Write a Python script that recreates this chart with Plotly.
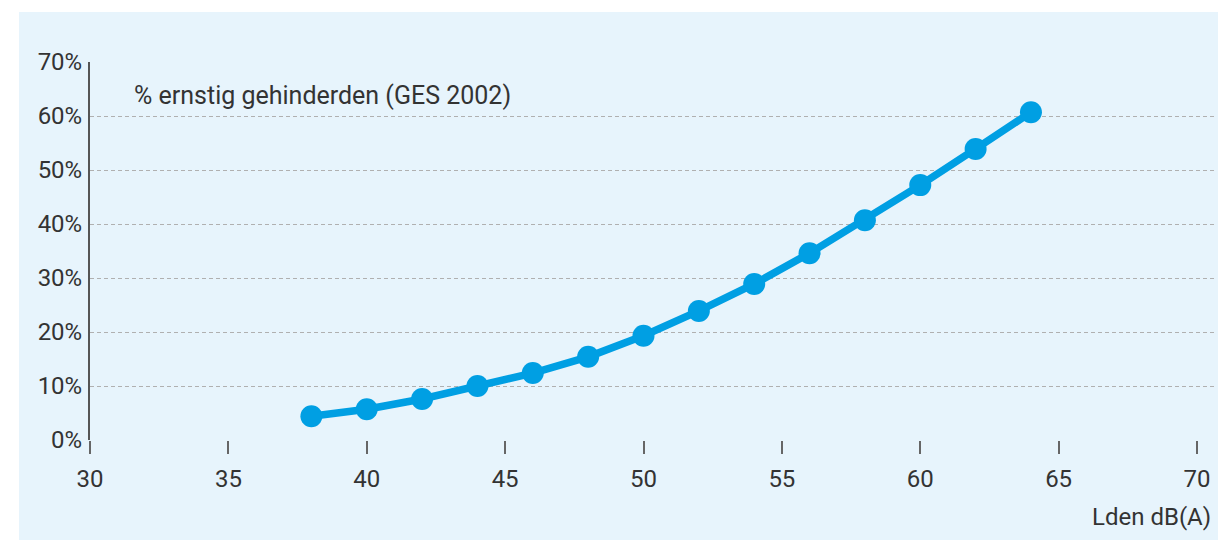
import plotly.graph_objects as go

lden = [38, 40, 42, 44, 46, 48, 50, 52, 54, 56, 58, 60, 62, 64]
pct_annoyed = [4.4, 5.7, 7.6, 10.0, 12.4, 15.4, 19.3, 23.9, 28.9, 34.6, 40.7, 47.2, 53.9, 60.7]
x_ticks = [30, 35, 40, 45, 50, 55, 60, 65, 70]
y_ticks = [0, 10, 20, 30, 40, 50, 60, 70]

BLUE_BG = "#E7F4FC"
LINE = "#009FE3"
TXT = "#333333"
FONT = "Roboto"

fig = go.Figure()
fig.add_trace(go.Scatter(
    x=lden, y=pct_annoyed, mode="lines+markers",
    line=dict(color=LINE, width=7.5),
    marker=dict(color=LINE, size=22),
    showlegend=False, hoverinfo="skip",
))

W, H = 1218, 540
L, R, T, B = 90, 4, 62, 100
pw, ph = W - L - R, H - T - B

def px(xp):
    return (xp - L) / pw

def py(yp):
    return (H - B - yp) / ph

fig.add_shape(type="rect", xref="paper", yref="paper",
              x0=px(19), x1=px(1218), y0=py(540), y1=py(12),
              fillcolor=BLUE_BG, line=dict(width=0), layer="below")

fig.add_annotation(text="% ernstig gehinderden (GES 2002)", xref="paper", yref="paper",
                   x=px(132), y=py(95), xanchor="left", yanchor="middle",
                   showarrow=False, font=dict(family=FONT, size=25, color=TXT))
fig.add_annotation(text="Lden dB(A)", xref="paper", yref="paper",
                   x=px(1213), y=py(517), xanchor="right", yanchor="middle",
                   showarrow=False, font=dict(family=FONT, size=24, color=TXT))

fig.update_layout(
    width=W, height=H,
    margin=dict(l=L, r=R, t=T, b=B),
    paper_bgcolor="white",
    plot_bgcolor="rgba(0,0,0,0)",
    font=dict(family=FONT, size=24, color=TXT),
    xaxis=dict(range=[30, 30 + 40 * pw / (1197 - 90)], tickvals=x_ticks,
               ticks="outside", ticklen=13, tickcolor="#666", tickwidth=1.5,
               showgrid=False, zeroline=False, showline=False,
               ticklabelstandoff=4, tickfont=dict(size=24)),
    yaxis=dict(range=[0, 70], tickvals=y_ticks, ticktext=[f"{v}%" for v in y_ticks],
               showgrid=True, gridcolor="#B0B0B0", gridwidth=1, griddash="4px,3px",
               zeroline=False, showline=True, linecolor="#555", linewidth=2,
               ticks="", ticklabelstandoff=1, tickfont=dict(size=24)),
)

fig.write_html("out.html", config={"displayModeBar": False},
               post_script="document.body.style.margin='0';document.body.style.overflow='hidden';")
